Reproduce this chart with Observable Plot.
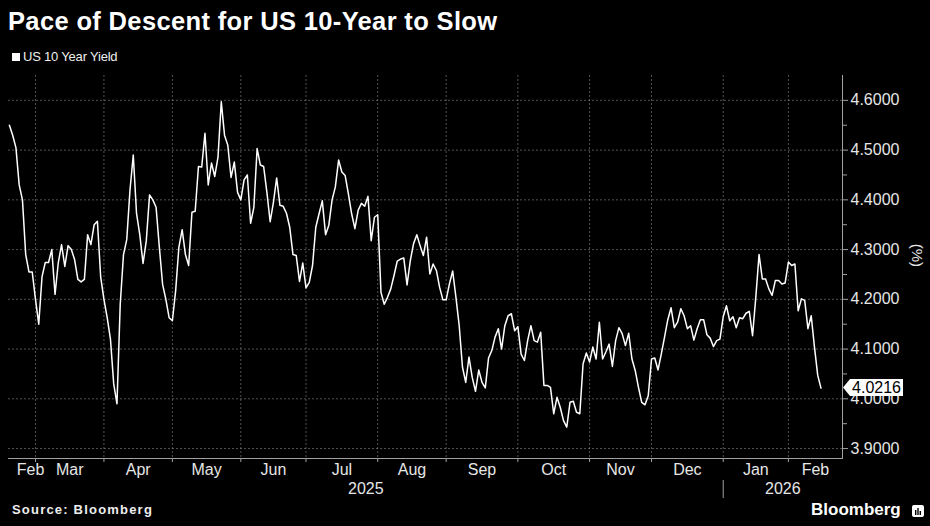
<!DOCTYPE html>
<html>
<head>
<meta charset="utf-8">
<script src="https://cdn.jsdelivr.net/npm/d3@7"></script>
<script src="https://cdn.jsdelivr.net/npm/@observablehq/plot@0.6"></script>
<style>
html, body { margin: 0; padding: 0; background: #000; }
body { width: 930px; height: 526px; position: relative; overflow: hidden; font-family: "Liberation Sans", Arial, sans-serif; color: #fff; }
#title { position: absolute; left: 8px; top: 9px; font-weight: bold; font-size: 25.5px; letter-spacing: 0.35px; line-height: 1; white-space: nowrap; }
#legend { position: absolute; left: 12px; top: 50px; font-size: 13px; letter-spacing: -0.2px; line-height: 1; white-space: nowrap; color: #eee; }
#legend .sw { display: inline-block; width: 8px; height: 8px; background: #fff; margin-right: 3px; vertical-align: 0px; }
#chart { position: absolute; left: 0; top: 70px; }
#source { position: absolute; left: 12px; top: 503px; font-weight: bold; font-size: 13px; letter-spacing: 1.2px; line-height: 1; color: #eee; }
#brand { position: absolute; left: 811px; top: 501px; font-weight: bold; font-size: 17px; line-height: 1; color: #fff; }
#icon { position: absolute; left: 912px; top: 505px; }
</style>
</head>
<body>
<div id="title">Pace of Descent for US 10-Year to Slow</div>
<div id="legend"><span class="sw"></span>US 10 Year Yield</div>
<div id="chart"></div>
<div id="source">Source: Bloomberg</div>
<div id="brand">Bloomberg</div>
<svg id="icon" width="12" height="12" viewBox="0 0 12 12"><rect x="0" y="0" width="12" height="12" rx="2" fill="#fff"/><rect x="3" y="5" width="1.4" height="5" fill="#000"/><rect x="5.3" y="3" width="1.4" height="7" fill="#000"/><rect x="7.6" y="6" width="1.4" height="4" fill="#000"/></svg>
<script>
// ---- Data: US 10 Year Yield, daily closes grouped by month (trading days) ----
const monthNames = ["Feb", "Mar", "Apr", "May", "Jun", "Jul", "Aug", "Sep", "Oct", "Nov", "Dec", "Jan", "Feb"];
const yearNames = ["2025", "2026"];

const feb2025 = [4.55, 4.53, 4.505, 4.43, 4.40, 4.29, 4.255, 4.255];
const mar2025 = [4.20, 4.15, 4.245, 4.274, 4.274, 4.30, 4.21, 4.274, 4.31, 4.266, 4.308, 4.30, 4.28, 4.24, 4.235, 4.24, 4.33, 4.31, 4.35, 4.357, 4.245];
const apr2025 = [4.20, 4.163, 4.12, 4.03, 3.99, 4.19, 4.29, 4.32, 4.42, 4.49, 4.373, 4.33, 4.272, 4.318, 4.41, 4.40, 4.385, 4.305, 4.23, 4.20, 4.163];
const may2025 = [4.157, 4.217, 4.305, 4.34, 4.29, 4.268, 4.375, 4.377, 4.467, 4.466, 4.534, 4.43, 4.474, 4.447, 4.486, 4.597, 4.53, 4.51, 4.445, 4.476, 4.415];
const jun2025 = [4.40, 4.44, 4.45, 4.353, 4.385, 4.503, 4.47, 4.467, 4.415, 4.356, 4.395, 4.444, 4.389, 4.387, 4.373, 4.345, 4.29, 4.288, 4.236, 4.273];
const jul2025 = [4.223, 4.234, 4.268, 4.345, 4.372, 4.398, 4.33, 4.349, 4.40, 4.426, 4.48, 4.456, 4.449, 4.412, 4.372, 4.342, 4.379, 4.393, 4.387, 4.407, 4.318, 4.365];
const aug2025 = [4.37, 4.214, 4.19, 4.204, 4.221, 4.248, 4.277, 4.281, 4.283, 4.229, 4.278, 4.312, 4.33, 4.308, 4.288, 4.325, 4.251, 4.271, 4.258, 4.224, 4.199];
const sep2025 = [4.199, 4.231, 4.257, 4.204, 4.147, 4.064, 4.033, 4.084, 4.043, 4.015, 4.058, 4.033, 4.022, 4.082, 4.097, 4.124, 4.141, 4.10, 4.147, 4.167, 4.171, 4.137];
const oct2025 = [4.145, 4.09, 4.077, 4.117, 4.147, 4.117, 4.114, 4.134, 4.027, 4.027, 4.023, 3.97, 4.003, 3.983, 3.956, 3.943, 3.993, 3.995, 3.973, 3.97, 4.07, 4.092];
const nov2025 = [4.074, 4.104, 4.08, 4.154, 4.08, 4.094, 4.11, 4.065, 4.117, 4.143, 4.131, 4.107, 4.132, 4.08, 4.057, 4.023, 3.993, 3.988, 4.006];
const dec2025 = [4.08, 4.082, 4.058, 4.09, 4.124, 4.159, 4.183, 4.143, 4.154, 4.181, 4.167, 4.141, 4.147, 4.118, 4.141, 4.159, 4.159, 4.129, 4.122, 4.105, 4.117, 4.12];
const jan2026 = [4.165, 4.187, 4.157, 4.165, 4.143, 4.163, 4.161, 4.172, 4.176, 4.127, 4.204, 4.29, 4.241, 4.241, 4.221, 4.208, 4.238, 4.238, 4.231, 4.233];
const feb2026 = [4.275, 4.268, 4.271, 4.177, 4.201, 4.198, 4.141, 4.167, 4.104, 4.047, 4.0216];

const yTicks = [3.9, 4.0, 4.1, 4.2, 4.3, 4.4, 4.5, 4.6];
const yMinorTicks = [3.95, 4.05, 4.15, 4.25, 4.35, 4.45, 4.55];
const lastValue = 4.0216;

// ---- Build table ----
const monthly = [feb2025, mar2025, apr2025, may2025, jun2025, jul2025, aug2025, sep2025, oct2025, nov2025, dec2025, jan2026, feb2026];
const starts = [];
const data = [];
let k = 0;
monthly.forEach(arr => { starts.push(k); arr.forEach(v => data.push({i: k++, v})); });
const N = data.length;
const xMin = -0.28, xMax = N - 1 + 6.6;
const boundaries = starts.slice(1);
const monthLabels = monthNames.map((name, m) => {
  const a = m === 0 ? starts[1] - 1.5 : starts[m];
  const b = m === 0 ? starts[1] - 1.5 : (m + 1 < starts.length ? starts[m + 1] : xMax);
  return {pos: (a + b) / 2, name};
});
const yearStart = starts[11];
const yearLabels = [
  {pos: (xMin + yearStart) / 2, name: yearNames[0]},
  {pos: (yearStart + xMax) / 2, name: yearNames[1]}
];

const fmt = d3.format(".4f");

const chart = Plot.plot({
  width: 930,
  height: 430,
  marginLeft: 8,
  marginRight: 88,
  marginTop: 5,
  marginBottom: 42,
  style: {background: "#000", color: "#e6e6e6", fontFamily: "'Liberation Sans', Arial, sans-serif", fontSize: "16px", overflow: "visible"},
  x: {domain: [xMin, xMax], axis: null},
  y: {domain: [3.88, 4.65], axis: null},
  marks: [
    Plot.gridY(yTicks, {stroke: "#8a8a8a", strokeOpacity: 0.75, strokeDasharray: "2,2", strokeWidth: 0.8}),
    Plot.gridX(boundaries, {stroke: "#8a8a8a", strokeOpacity: 0.75, strokeDasharray: "2,2", strokeWidth: 0.8}),
    Plot.frame({anchor: "right", stroke: "#a0a0a0"}),
    Plot.frame({anchor: "bottom", stroke: "#a0a0a0"}),
    Plot.axisY(yTicks, {anchor: "right", tickSize: 5, tickPadding: 3, tickFormat: fmt, fontSize: 16, stroke: "#a0a0a0", fill: "#e6e6e6", label: null}),
    Plot.axisY(yMinorTicks, {anchor: "right", tickSize: 4, tickFormat: () => "", stroke: "#a0a0a0", label: null}),
    Plot.axisX(boundaries, {anchor: "bottom", tickSize: 4, tickFormat: () => "", stroke: "#a0a0a0", label: null}),
    Plot.ruleX([yearStart], {stroke: "#a0a0a0", insetTop: 405, insetBottom: -40}),
    Plot.text(monthLabels, {x: "pos", text: "name", frameAnchor: "bottom", dy: 16, fill: "#e6e6e6", fontSize: 16}),
    Plot.text(yearLabels, {x: "pos", text: "name", frameAnchor: "bottom", dy: 35, fill: "#e6e6e6", fontSize: 16}),
    Plot.text(["(%)"], {frameAnchor: "right", dx: 74, rotate: 90, fill: "#e6e6e6", fontSize: 15}),
    Plot.line(data, {x: "i", y: "v", stroke: "#fff", strokeWidth: 1.5, curve: "linear"}),
    (index, scales, values, dims) => {
      const g = d3.create("svg:g");
      const y = scales.y(lastValue);
      const x0 = dims.width - dims.marginRight + 1;
      const p = 7, w = 53, h = 17;
      g.append("path")
        .attr("d", `M${x0},${y} L${x0 + p},${y - h / 2} H${x0 + p + w} V${y + h / 2} H${x0 + p} Z`)
        .attr("fill", "#fff");
      g.append("text")
        .attr("x", x0 + p + w / 2).attr("y", y).attr("dy", "0.35em")
        .attr("text-anchor", "middle").attr("fill", "#000").attr("font-size", 16)
        .text(fmt(lastValue));
      return g.node();
    }
  ]
});
document.getElementById("chart").appendChild(chart);
</script>
</body>
</html>
